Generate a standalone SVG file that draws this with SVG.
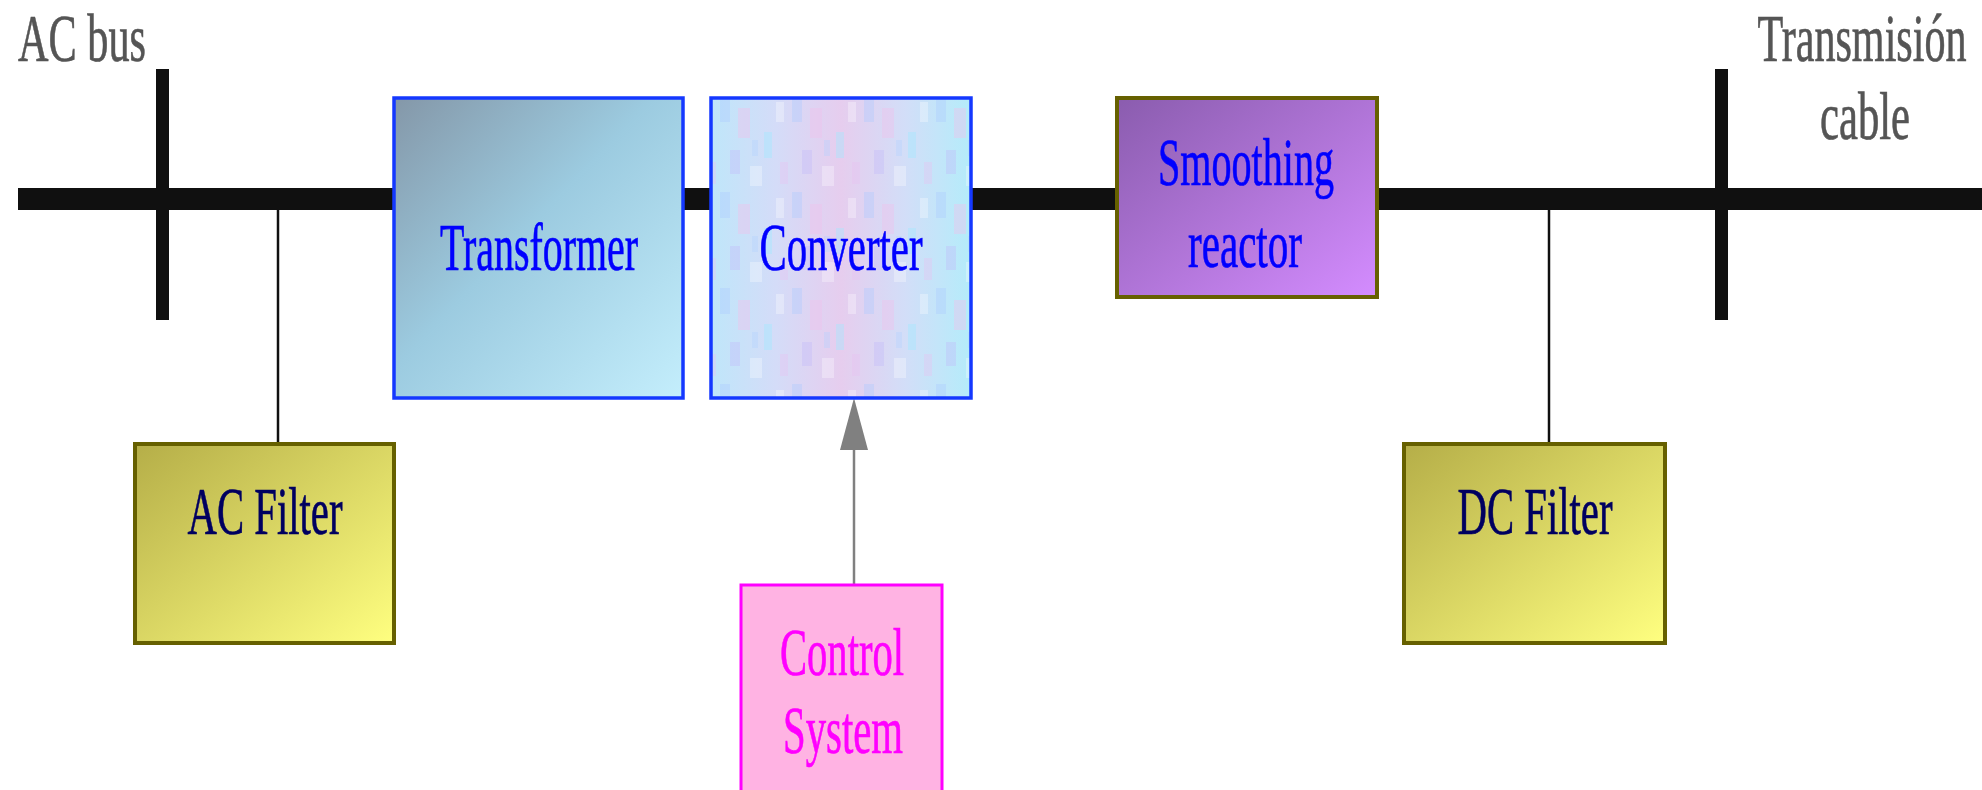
<svg xmlns="http://www.w3.org/2000/svg" width="1982" height="790" viewBox="0 0 1982 790">
  <defs>
    <linearGradient id="gTrans" x1="0" y1="0" x2="1" y2="1">
      <stop offset="0" stop-color="#8497a8"/>
      <stop offset="0.45" stop-color="#9ccbe0"/>
      <stop offset="1" stop-color="#c4eefc"/>
    </linearGradient>
    <linearGradient id="gConv" x1="0" y1="0" x2="1" y2="0">
      <stop offset="0" stop-color="#bfe6fa"/>
      <stop offset="0.25" stop-color="#d4dcf8"/>
      <stop offset="0.5" stop-color="#e6cdee"/>
      <stop offset="0.75" stop-color="#d2def8"/>
      <stop offset="1" stop-color="#b4ecfa"/>
    </linearGradient>
    <pattern id="pConv" x="0" y="0" width="72" height="96" patternUnits="userSpaceOnUse">
      <rect x="0" y="0" width="10" height="26" fill="#a8c8ff" opacity="0.35"/>
      <rect x="18" y="12" width="12" height="30" fill="#f0c0ec" opacity="0.4"/>
      <rect x="44" y="36" width="8" height="26" fill="#a0e8ff" opacity="0.4"/>
      <rect x="10" y="54" width="10" height="24" fill="#c0b8f8" opacity="0.35"/>
      <rect x="56" y="6" width="8" height="20" fill="#ffffff" opacity="0.3"/>
      <rect x="30" y="70" width="12" height="20" fill="#ffffff" opacity="0.3"/>
      <rect x="60" y="66" width="8" height="22" fill="#e8c0f0" opacity="0.35"/>
      <rect x="32" y="44" width="6" height="16" fill="#b0d0ff" opacity="0.35"/>
    </pattern>
    <linearGradient id="gSmooth" x1="0" y1="0" x2="1" y2="1">
      <stop offset="0" stop-color="#8a5cae"/>
      <stop offset="1" stop-color="#d48cff"/>
    </linearGradient>
    <linearGradient id="gFilter" x1="0" y1="0" x2="1" y2="1">
      <stop offset="0" stop-color="#b5ae48"/>
      <stop offset="1" stop-color="#ffff80"/>
    </linearGradient>
  </defs>
  <style>
    .lbl { font-family: "Liberation Serif", "Times New Roman", serif; font-size: 68px; text-anchor: middle; stroke-width: 0.7px; }
    .blue { fill: #0000ff; stroke: #0000ff; }
    .navy { fill: #000060; stroke: #000060; }
    .mag { fill: #ff00ff; stroke: #ff00ff; }
    .gray { fill: #555555; stroke: #555555; }
    .bus { fill: #101010; }
    .tap { stroke: #101010; stroke-width: 2.5; fill: none; }
    .boxBlue { stroke: #1438ff; stroke-width: 3.5; }
    .boxOlive { stroke: #666000; stroke-width: 4; }
  </style>
  <rect width="1982" height="790" fill="#ffffff"/>

  <g id="connectors">
    <rect class="bus" x="18" y="188" width="1964" height="22"/>
    <rect class="bus" x="156" y="69" width="13" height="251"/>
    <rect class="bus" x="1715" y="69" width="13" height="251"/>
    <line class="tap" x1="278" y1="210" x2="278" y2="443"/>
    <line class="tap" x1="1549" y1="210" x2="1549" y2="443"/>
    <line x1="854" y1="596" x2="854" y2="445" stroke="#808080" stroke-width="2.5"/>
    <path d="M854 398 L868 450 L840 450 Z" fill="#808080"/>
  </g>

  <g id="label-acbus">
    <text class="lbl gray" x="82" y="61" textLength="128" lengthAdjust="spacingAndGlyphs">AC bus</text>
  </g>
  <g id="label-cable">
    <text class="lbl gray" transform="translate(1862,61) scale(0.62,1)" x="0" y="0">Transmisión</text>
    <text class="lbl gray" x="1865" y="139" textLength="90" lengthAdjust="spacingAndGlyphs">cable</text>
  </g>

  <g id="transformer">
    <rect class="boxBlue" x="394" y="98" width="289" height="300" fill="url(#gTrans)"/>
    <text class="lbl blue" x="539" y="270" textLength="198" lengthAdjust="spacingAndGlyphs">Transformer</text>
  </g>

  <g id="converter">
    <rect x="711" y="98" width="260" height="300" fill="url(#gConv)"/>
    <rect x="711" y="98" width="260" height="300" fill="url(#pConv)"/>
    <rect class="boxBlue" x="711" y="98" width="260" height="300" fill="none"/>
    <text class="lbl blue" x="841" y="270" textLength="163" lengthAdjust="spacingAndGlyphs">Converter</text>
  </g>

  <g id="smoothing-reactor">
    <rect class="boxOlive" x="1117" y="98" width="260" height="199" fill="url(#gSmooth)"/>
    <text class="lbl blue" x="1246" y="185" textLength="176" lengthAdjust="spacingAndGlyphs">Smoothing</text>
    <text class="lbl blue" x="1245" y="267" textLength="114" lengthAdjust="spacingAndGlyphs">reactor</text>
  </g>

  <g id="ac-filter">
    <rect class="boxOlive" x="135" y="444" width="259" height="199" fill="url(#gFilter)"/>
    <text class="lbl navy" x="265" y="534" textLength="155" lengthAdjust="spacingAndGlyphs">AC Filter</text>
  </g>

  <g id="dc-filter">
    <rect class="boxOlive" x="1404" y="444" width="261" height="199" fill="url(#gFilter)"/>
    <text class="lbl navy" x="1535" y="534" textLength="155" lengthAdjust="spacingAndGlyphs">DC Filter</text>
  </g>

  <g id="control-system">
    <rect x="741" y="585" width="201" height="215" fill="#ffb3e3" stroke="#ff00ff" stroke-width="3"/>
    <text class="lbl mag" x="842" y="675" textLength="124" lengthAdjust="spacingAndGlyphs">Control</text>
    <text class="lbl mag" x="843" y="753" textLength="120" lengthAdjust="spacingAndGlyphs">System</text>
  </g>
</svg>
